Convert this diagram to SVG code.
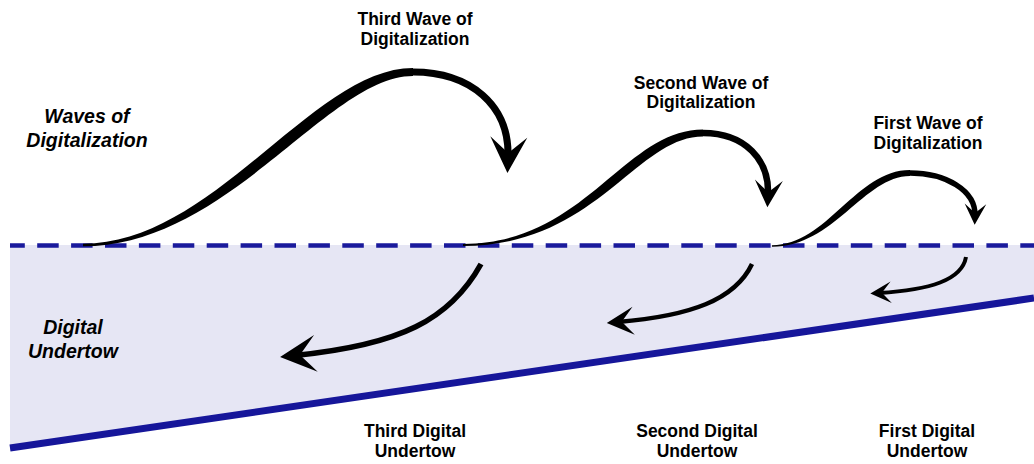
<svg xmlns="http://www.w3.org/2000/svg" width="1034" height="464" viewBox="0 0 1034 464">
  <style>
    .lbl { font-family: "Liberation Sans", Arial, sans-serif; font-weight: bold; font-size: 17.5px; fill: #000; text-anchor: middle; }
    .side { font-family: "Liberation Sans", Arial, sans-serif; font-weight: bold; font-style: italic; font-size: 19.5px; fill: #000; text-anchor: middle; }
    .wave { fill: #000; stroke: none; }
    .arc { fill: none; stroke: #000; stroke-linecap: butt; }
  </style>
  <defs>
    <marker id="headL" markerUnits="userSpaceOnUse" orient="auto" refX="0" refY="0" markerWidth="40" markerHeight="40" overflow="visible">
      <path d="M15,0 L-21,-18.5 L-5,0 L-21,18.5 Z" fill="#000"/>
    </marker>
    <marker id="headM" markerUnits="userSpaceOnUse" orient="auto" refX="0" refY="0" markerWidth="30" markerHeight="30" overflow="visible">
      <path d="M11.25,0 L-15.75,-14 L-3.75,0 L-15.75,14 Z" fill="#000"/>
    </marker>
    <marker id="headS" markerUnits="userSpaceOnUse" orient="auto" refX="0" refY="0" markerWidth="24" markerHeight="24" overflow="visible">
      <path d="M8.7,0 L-12.2,-10.8 L-2.9,0 L-12.2,10.8 Z" fill="#000"/>
    </marker>
  </defs>

  <g id="sea">
    <polygon points="10,245 1034,245 1034,297 10,448" fill="#e6e6f4"/>
    <line x1="10" y1="448" x2="1034" y2="298" stroke="#16169a" stroke-width="7"/>
    <line x1="10" y1="245.5" x2="1034" y2="245.5" stroke="#1a1a9c" stroke-width="4.5" stroke-dasharray="21.5 12.4" stroke-dashoffset="6.7"/>
  </g>

  <g id="connectors">
    <g id="third-wave">
      <path class="wave" d="M83,243.8 C214,243.8 313,68 413,68 L413,76 C328,76 228,246.2 83,246.2 Z"/>
      <path class="arc" stroke-width="7" d="M413,72 C470,72 510,105 508,158" marker-end="url(#headL)"/>
    </g>
    <g id="second-wave">
      <path class="wave" d="M463,244 C585,244 624,129.5 703,129.5 L703,136.5 C636,136.5 596,246 463,246 Z"/>
      <path class="arc" stroke-width="6.5" d="M703,133 C745,133 770,160 768,196" marker-end="url(#headM)"/>
    </g>
    <g id="first-wave">
      <path class="wave" d="M772,245.2 C827,245.2 856,170 910,170 L910,176 C864,176 834,246.8 772,246.8 Z"/>
      <path class="arc" stroke-width="5.5" d="M910,173 C945,173 976,190 975,216" marker-end="url(#headS)"/>
    </g>
    <path id="third-undertow" class="arc" stroke-width="5.5" d="M481,264 C450,320 400,345 295,355.5" marker-end="url(#headL)"/>
    <path id="second-undertow" class="arc" stroke-width="4.5" d="M752,264 C735,300 690,316 618,322" marker-end="url(#headM)"/>
    <path id="first-undertow" class="arc" stroke-width="4" d="M966,257 C962,280 930,290 879,293" marker-end="url(#headS)"/>
  </g>

  <g id="label-waves">
    <text class="side" x="87" y="123">Waves of</text>
    <text class="side" x="87" y="147">Digitalization</text>
  </g>
  <g id="label-undertow">
    <text class="side" x="73" y="334">Digital</text>
    <text class="side" x="73" y="358">Undertow</text>
  </g>
  <g id="label-third-wave">
    <text class="lbl" x="415" y="25">Third Wave of</text>
    <text class="lbl" x="415" y="45">Digitalization</text>
  </g>
  <g id="label-second-wave">
    <text class="lbl" x="701" y="89">Second Wave of</text>
    <text class="lbl" x="701" y="108">Digitalization</text>
  </g>
  <g id="label-first-wave">
    <text class="lbl" x="928" y="129">First Wave of</text>
    <text class="lbl" x="928" y="149">Digitalization</text>
  </g>
  <g id="label-third-undertow">
    <text class="lbl" x="415" y="437">Third Digital</text>
    <text class="lbl" x="415" y="457">Undertow</text>
  </g>
  <g id="label-second-undertow">
    <text class="lbl" x="697" y="437">Second Digital</text>
    <text class="lbl" x="697" y="457">Undertow</text>
  </g>
  <g id="label-first-undertow">
    <text class="lbl" x="927" y="437">First Digital</text>
    <text class="lbl" x="927" y="457">Undertow</text>
  </g>
</svg>
